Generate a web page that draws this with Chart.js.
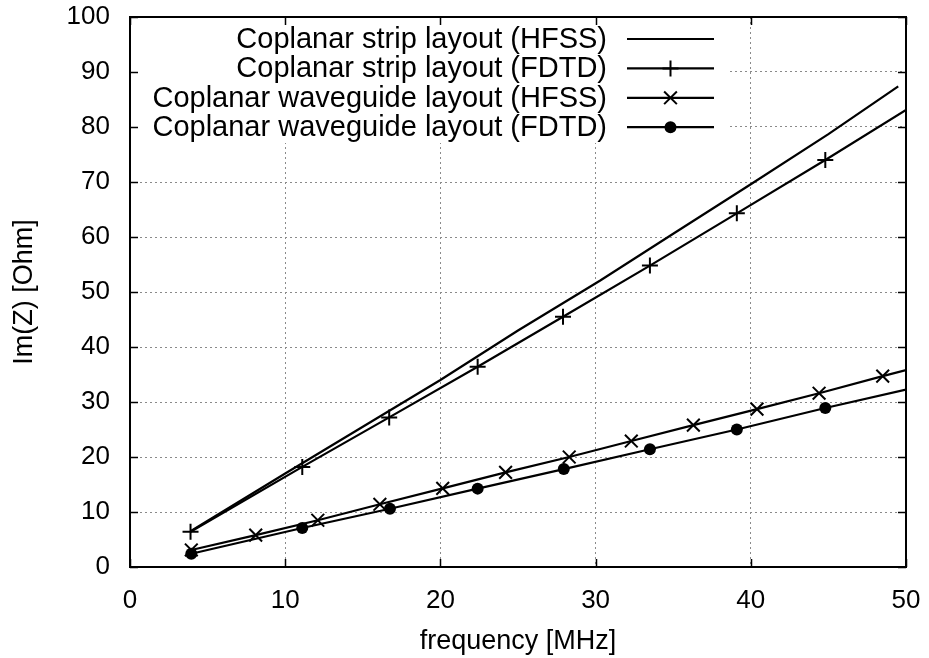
<!DOCTYPE html>
<html>
<head>
    <title>Im(Z) vs frequency</title>
    <script src="https://cdn.jsdelivr.net/npm/chart.js"></script>
    <style>
        body { margin: 0; background: #fff; }
        #wrap { width: 929px; height: 658px; position: relative; }
    </style>
</head>
<body>
    <div id="wrap"><canvas id="figure"></canvas></div>

    <script>
        // values
        var seriesNames = [
            'Coplanar strip layout (HFSS)',
            'Coplanar strip layout (FDTD)',
            'Coplanar waveguide layout (HFSS)',
            'Coplanar waveguide layout (FDTD)'
        ];

        var freqStripHfss = [3.9, 10, 15, 20, 25, 30.3, 35, 40, 45, 49.5];
        var imStripHfss   = [6.5, 17.0, 25.5, 34.0, 43.0, 52.1, 60.6, 69.6, 78.7, 87.4];

        var freqStripFdtd = [3.9, 11.1, 16.7, 22.4, 27.9, 33.5, 39.1, 44.8, 50];
        var imStripFdtd   = [6.4, 18.2, 27.2, 36.4, 45.5, 54.8, 64.3, 74.0, 83.1];

        var freqCpwHfss = [3.95, 8.1, 12.1, 16.1, 20.15, 24.2, 28.3, 32.3, 36.3, 40.4, 44.4, 48.5, 50];
        var imCpwHfss   = [3.1, 5.8, 8.5, 11.4, 14.3, 17.2, 20.0, 22.9, 25.8, 28.7, 31.6, 34.7, 35.8];

        var freqCpwFdtd = [3.95, 11.1, 16.75, 22.4, 27.95, 33.5, 39.1, 44.8, 50];
        var imCpwFdtd   = [2.4, 7.1, 10.6, 14.25, 17.8, 21.4, 25.0, 28.9, 32.25];

        var xTicks = [0, 10, 20, 30, 40, 50];
        var yTicks = [0, 10, 20, 30, 40, 50, 60, 70, 80, 90, 100];

        var FONT = "'Liberation Sans', Arial, Helvetica, sans-serif";

        function pairs(xs, ys) {
            return xs.map(function (x, i) { return { x: x, y: ys[i] }; });
        }

        // last point of the FDTD/waveguide curves is just where the line leaves the frame
        function markerUnlessTail(r) {
            return function (c) {
                return c.dataIndex === c.dataset.data.length - 1 ? 0 : r;
            };
        }

        function drawMarker(ctx, style, x, y, r) {
            ctx.beginPath();
            if (style === 'cross') {
                ctx.moveTo(x - r, y); ctx.lineTo(x + r, y);
                ctx.moveTo(x, y - r); ctx.lineTo(x, y + r);
                ctx.stroke();
            } else if (style === 'crossRot') {
                var d = r * Math.SQRT1_2;
                ctx.moveTo(x - d, y - d); ctx.lineTo(x + d, y + d);
                ctx.moveTo(x - d, y + d); ctx.lineTo(x + d, y - d);
                ctx.stroke();
            } else if (style === 'circle') {
                ctx.arc(x, y, r, 0, Math.PI * 2);
                ctx.fill();
            }
        }

        var legendBox = { left: 131, right: 730, top: 17, bottom: 143 };

        var framePlugin = {
            id: 'frame',
            beforeDatasetsDraw: function (chart) {
                // opaque key: hide the grid behind it
                var ctx = chart.ctx;
                ctx.save();
                ctx.fillStyle = '#fff';
                ctx.fillRect(legendBox.left, legendBox.top,
                    legendBox.right - legendBox.left, legendBox.bottom - legendBox.top);
                ctx.restore();
            },
            afterDatasetsDraw: function (chart) {
                var ctx = chart.ctx;
                var a = chart.chartArea;
                var xs = chart.scales.x, ys = chart.scales.y;
                ctx.save();
                ctx.strokeStyle = '#000';
                ctx.fillStyle = '#000';

                // inward ticks on all four sides
                ctx.lineWidth = 1.5;
                ctx.beginPath();
                xTicks.forEach(function (v) {
                    var px = Math.round(xs.getPixelForValue(v)) + 0.5;
                    ctx.moveTo(px, a.bottom); ctx.lineTo(px, a.bottom - 8);
                    ctx.moveTo(px, a.top); ctx.lineTo(px, a.top + 8);
                });
                yTicks.forEach(function (v) {
                    var py = Math.round(ys.getPixelForValue(v)) + 0.5;
                    ctx.moveTo(a.left, py); ctx.lineTo(a.left + 8, py);
                    ctx.moveTo(a.right, py); ctx.lineTo(a.right - 8, py);
                });
                ctx.stroke();

                // frame
                ctx.lineWidth = 2;
                ctx.strokeRect(a.left, a.top, a.right - a.left, a.bottom - a.top);

                // key, gnuplot style: text then sample
                ctx.font = '29px ' + FONT;
                ctx.textAlign = 'right';
                ctx.textBaseline = 'middle';
                chart.data.datasets.forEach(function (ds, i) {
                    var y = 39 + i * 29.4;
                    ctx.fillText(ds.label, 607, y + 1);
                    ctx.lineWidth = 2.2;
                    ctx.beginPath();
                    ctx.moveTo(627, y); ctx.lineTo(714, y);
                    ctx.stroke();
                    if (ds.keyStyle) {
                        ctx.lineWidth = 2;
                        drawMarker(ctx, ds.keyStyle, 670.5, y, ds.keyRadius);
                    }
                });
                ctx.restore();
            }
        };

        var ctx = document.getElementById('figure').getContext('2d');

        new Chart(ctx, {
            type: 'scatter',
            data: {
                datasets: [{
                    label: seriesNames[0],
                    data: pairs(freqStripHfss, imStripHfss),
                    showLine: true,
                    borderColor: '#000',
                    borderWidth: 2.2,
                    pointRadius: 0,
                    keyStyle: null
                }, {
                    label: seriesNames[1],
                    data: pairs(freqStripFdtd, imStripFdtd),
                    showLine: true,
                    borderColor: '#000',
                    backgroundColor: '#000',
                    borderWidth: 2.2,
                    pointStyle: 'cross',
                    pointRadius: markerUnlessTail(8),
                    pointBorderWidth: 2,
                    keyStyle: 'cross',
                    keyRadius: 8
                }, {
                    label: seriesNames[2],
                    data: pairs(freqCpwHfss, imCpwHfss),
                    showLine: true,
                    borderColor: '#000',
                    backgroundColor: '#000',
                    borderWidth: 2.2,
                    pointStyle: 'crossRot',
                    pointRadius: markerUnlessTail(9),
                    pointBorderWidth: 2,
                    keyStyle: 'crossRot',
                    keyRadius: 9
                }, {
                    label: seriesNames[3],
                    data: pairs(freqCpwFdtd, imCpwFdtd),
                    showLine: true,
                    borderColor: '#000',
                    backgroundColor: '#000',
                    borderWidth: 2.2,
                    pointStyle: 'circle',
                    pointRadius: markerUnlessTail(6),
                    pointBorderWidth: 0,
                    keyStyle: 'circle',
                    keyRadius: 6
                }]
            },
            options: {
                responsive: true,
                maintainAspectRatio: false,
                animation: false,
                layout: { padding: { top: 17, right: 23, left: 0, bottom: 0 } },
                plugins: {
                    legend: { display: false },
                    tooltip: { enabled: false }
                },
                scales: {
                    x: {
                        type: 'linear',
                        min: 0,
                        max: 50,
                        afterBuildTicks: function (s) {
                            s.ticks = xTicks.map(function (v) { return { value: v }; });
                        },
                        grid: { color: '#8a8a8a', lineWidth: 1, drawTicks: false },
                        border: { display: false, dash: [2, 3] },
                        ticks: {
                            padding: 18,
                            maxRotation: 0,
                            autoSkip: false,
                            color: '#000',
                            font: { family: FONT, size: 26 }
                        },
                        title: {
                            display: true,
                            text: 'frequency [MHz]',
                            color: '#000',
                            font: { family: FONT, size: 27 },
                            padding: { top: 4, bottom: 0 }
                        },
                        afterFit: function (s) {
                            s.height = 91;
                            s.paddingLeft = 0;
                            s.paddingRight = 0;
                        }
                    },
                    y: {
                        type: 'linear',
                        min: 0,
                        max: 100,
                        afterBuildTicks: function (s) {
                            s.ticks = yTicks.map(function (v) { return { value: v }; });
                        },
                        grid: { color: '#8a8a8a', lineWidth: 1, drawTicks: false },
                        border: { display: false, dash: [2, 3] },
                        ticks: {
                            padding: 20,
                            autoSkip: false,
                            color: '#000',
                            font: { family: FONT, size: 26 }
                        },
                        title: {
                            display: true,
                            text: 'Im(Z) [Ohm]',
                            color: '#000',
                            font: { family: FONT, size: 27 },
                            padding: { top: 8, bottom: 0 }
                        },
                        afterFit: function (s) {
                            s.width = 130;
                            s.paddingTop = 0;
                            s.paddingBottom = 0;
                        }
                    }
                }
            },
            plugins: [framePlugin]
        });
    </script>
</body>
</html>
